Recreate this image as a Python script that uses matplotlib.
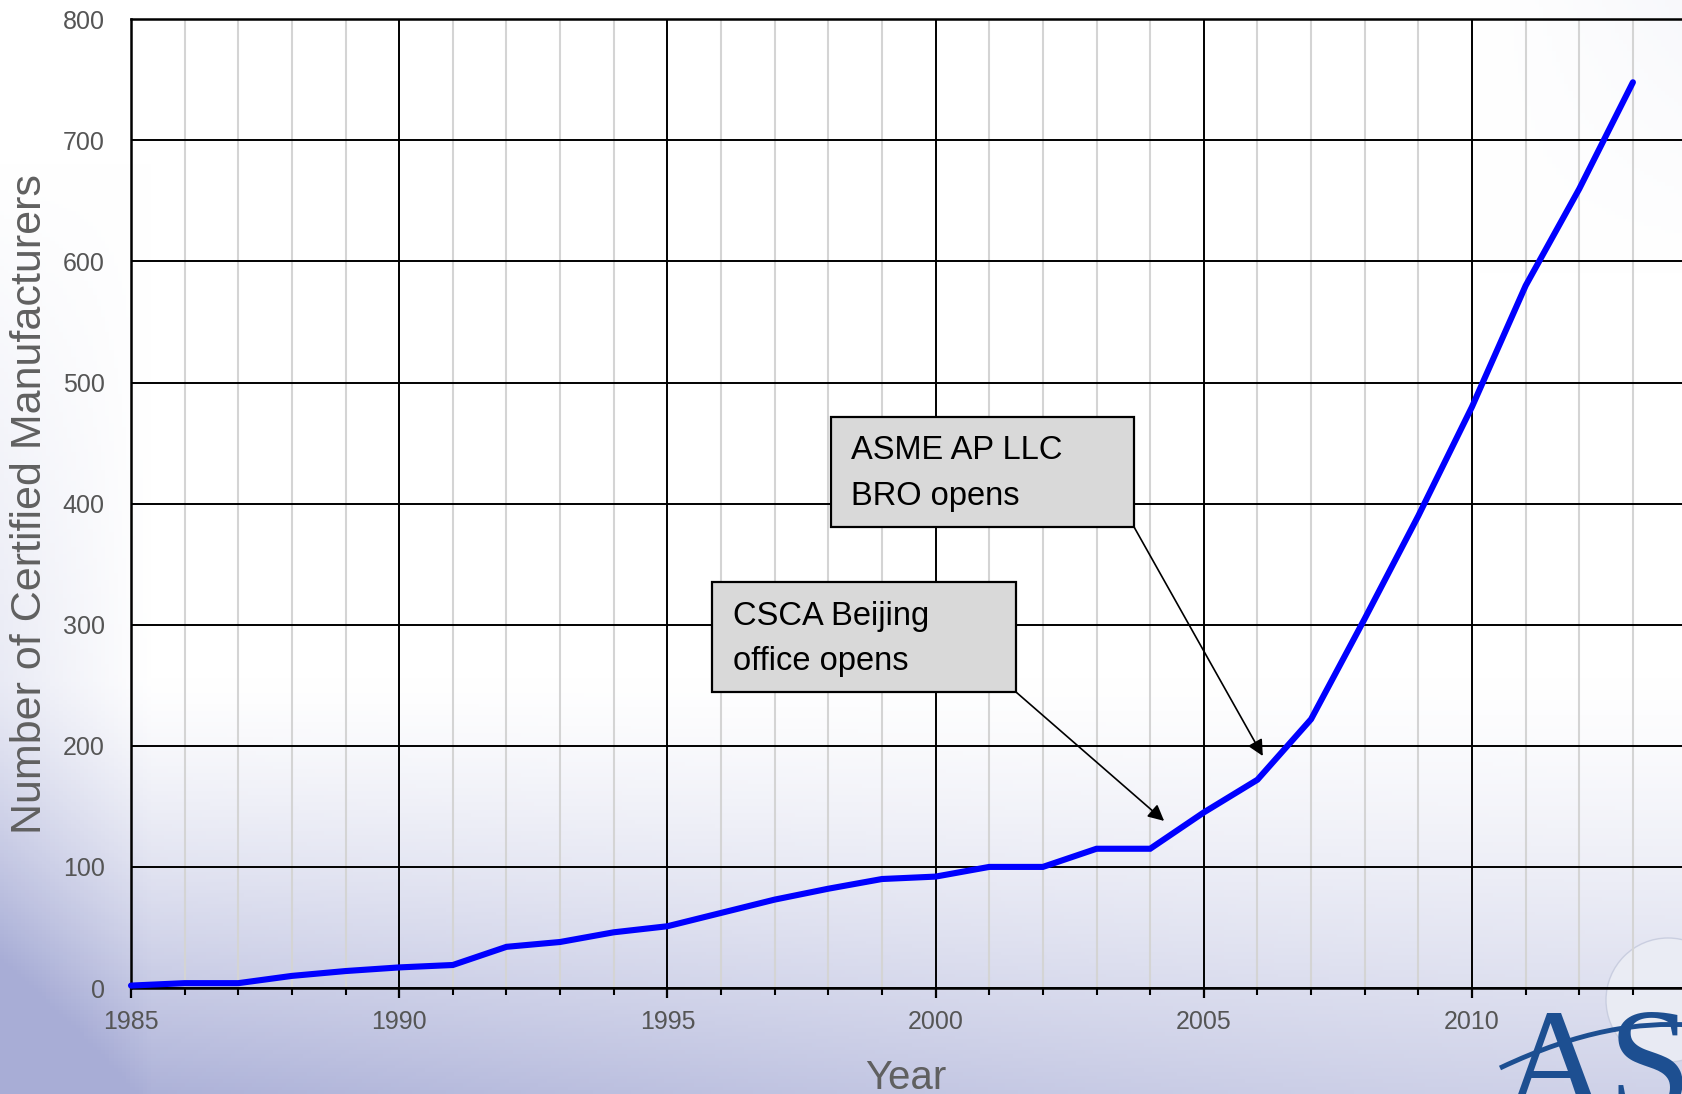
import numpy as np
import matplotlib
matplotlib.use("Agg")
import matplotlib.pyplot as plt
from matplotlib.patches import Rectangle, Ellipse, PathPatch
from matplotlib.path import Path
from matplotlib.ticker import MultipleLocator

# ---- data ----
years = [1985, 1986, 1987, 1988, 1989, 1990, 1991, 1992, 1993, 1994,
         1995, 1996, 1997, 1998, 1999, 2000, 2001, 2002, 2003, 2004,
         2005, 2006, 2007, 2008, 2009, 2010, 2011, 2012, 2013]
manufacturers = [2, 4, 4, 10, 14, 17, 19, 34, 38, 46,
                 51, 62, 73, 82, 90, 92, 100, 100, 115, 115,
                 145, 172, 222, 305, 390, 480, 580, 660, 748]
x_ticks = [1985, 1990, 1995, 2000, 2005, 2010]
y_ticks = [0, 100, 200, 300, 400, 500, 600, 700, 800]

W, H, DPI = 1682, 1094, 100
fig = plt.figure(figsize=(W / DPI, H / DPI), dpi=DPI)

# ---- background gradient ----
bg = fig.add_axes([0, 0, 1, 1], zorder=-10)
bg.axis("off")
u = np.linspace(0, 1, 400)[None, :]
v = np.linspace(0, 1, 300)[:, None]   # 0 top, 1 bottom
f = np.clip((v - 0.62) / 0.38, 0, 1) ** 1.3 * (0.55 + 0.45 * (1 - u) ** 1.5)
g = np.clip(1 - u / 0.09, 0, 1) * np.clip((v - 0.15) / 0.85, 0, 1) * 0.45
t = np.clip(u - 0.88, 0, 1) / 0.12 * np.clip(1 - v / 0.25, 0, 1) * 0.08
k = np.clip(f + g + t, 0, 1)
dark = np.array([0.66, 0.68, 0.84])
img = 1 - k[..., None] * (1 - dark)[None, None, :]
bg.imshow(img, aspect="auto", extent=[0, 1, 0, 1], origin="upper")
bg.set_xlim(0, 1)
bg.set_ylim(0, 1)
# faint globe behind the logo
bg.add_patch(Ellipse((1668 / W, 1 - 1000 / H), 2 * 62 / W, 2 * 62 / H,
                     facecolor="#eceef5", edgecolor="#c5cadd", lw=1.0, alpha=0.85))

# ---- main axes ----
left = 131 / W
bottom = (H - 988) / H
top = (H - 19.3) / H
ax = fig.add_axes([left, bottom, 1 - left, top - bottom])
ax.set_facecolor("none")

ax.set_xlim(1985, 1985 + (W - 131) / 53.64)
ax.set_ylim(0, 800)
ax.set_xticks(x_ticks)
ax.xaxis.set_minor_locator(MultipleLocator(1))
ax.set_yticks(y_ticks)

ax.grid(which="minor", axis="x", color="#d4d4d4", lw=1.5, zorder=0)
ax.grid(which="major", axis="both", color="black", lw=1.4, zorder=1)

ax.spines["right"].set_visible(False)
for s in ["left", "top", "bottom"]:
    ax.spines[s].set_linewidth(1.8)
    ax.spines[s].set_color("black")

ax.tick_params(axis="x", which="major", direction="out", length=7, width=1.6,
               labelsize=18, labelcolor="#555555", pad=9)
ax.tick_params(axis="x", which="minor", direction="out", length=5, width=1.5)
ax.tick_params(axis="y", which="major", length=0, labelsize=18,
               labelcolor="#555555", pad=19)
for lab in ax.get_xticklabels() + ax.get_yticklabels():
    lab.set_fontfamily("Liberation Sans")

ax.plot(years, manufacturers, color="#0000ff", lw=4.4, zorder=5,
        solid_capstyle="round", solid_joinstyle="miter", clip_on=False)

# ---- annotations ----
boxes = [
    dict(x0=1998.05, x1=2003.70, y0=380.7, y1=471.5,
         lines=["ASME AP LLC", "BRO opens"], tx=1998.42, ty=[444.3, 406.3],
         tip=(2006.1, 191.6)),
    dict(x0=1995.83, x1=2001.50, y0=244.4, y1=335.3,
         lines=["CSCA Beijing", "office opens"], tx=1996.22, ty=[306.4, 270.0],
         tip=(2004.26, 138.0)),
]
for b in boxes:
    ax.add_patch(Rectangle((b["x0"], b["y0"]), b["x1"] - b["x0"], b["y1"] - b["y0"],
                           facecolor="#d9d9d9", edgecolor="black", lw=1.6, zorder=6))
    for line, yy in zip(b["lines"], b["ty"]):
        ax.text(b["tx"], yy, line, fontsize=23.5, family="Liberation Sans",
                color="black", va="center", ha="left", zorder=7)
    ax.annotate("", xy=b["tip"], xytext=(b["x1"], b["y0"]), zorder=7,
                arrowprops=dict(arrowstyle="-|>", color="black", lw=1.2,
                                mutation_scale=24, shrinkA=0, shrinkB=0))

# ---- axis titles ----
fig.text(30 / W, 1 - 470 * 1.0727 / H, "Number of Certified Manufacturers",
         rotation=90, ha="center", va="center", fontsize=31,
         family="Liberation Sans", color="#606060")
fig.text(906 / W, 1 - 1089 / H, "Year", ha="center", va="baseline",
         fontsize=29, family="Liberation Sans", color="#606060")

# ---- logo ----
fig.text(1500 / W, 1 - 1112 / H, "ASME", ha="left", va="baseline",
         fontsize=108, family="Liberation Serif", color="#1d4f91", zorder=3)
sw = Path([(1500 / W, 1 - 1068 / H), (1580 / W, 1 - 1030 / H),
           (1640 / W, 1 - 1022 / H), (1690 / W, 1 - 1025 / H)],
          [Path.MOVETO, Path.CURVE4, Path.CURVE4, Path.CURVE4])
fig.add_artist(PathPatch(sw, transform=fig.transFigure, facecolor="none",
                         edgecolor="#1d4f91", lw=3.5, zorder=3))

fig.savefig("out.png", dpi=DPI)
